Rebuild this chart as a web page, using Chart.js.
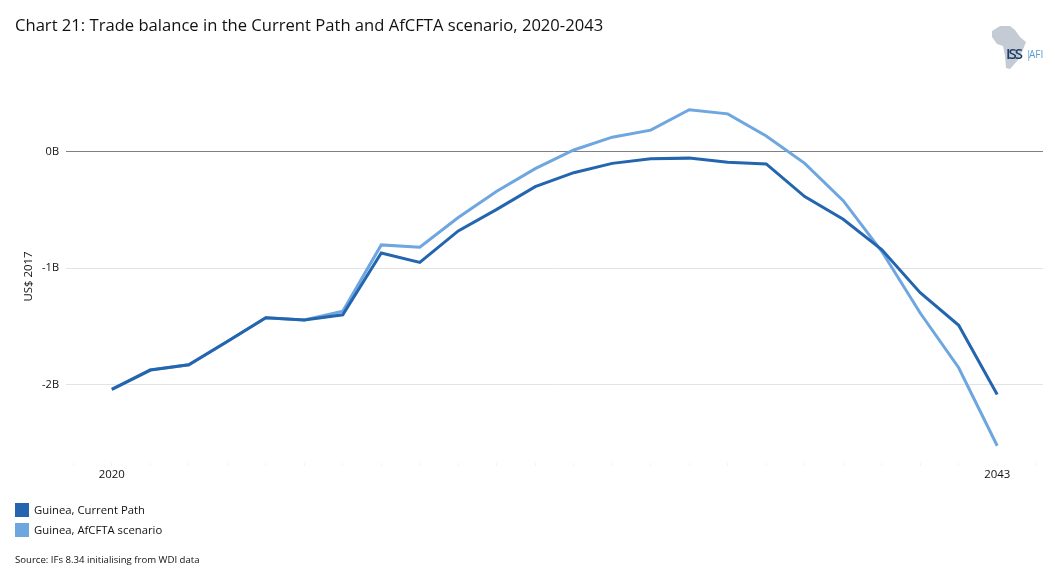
<!DOCTYPE html>
<html>
<head>
<meta charset="utf-8">
<title>Chart 21</title>
<script src="https://cdn.jsdelivr.net/npm/chart.js"></script>
<style>
  html, body { margin: 0; padding: 0; background: #fff; }
  body { width: 1055px; height: 584px; position: relative; overflow: hidden; font-family: "Open Sans", sans-serif; color: #111; }
  canvas { position: absolute; left: 0; top: 0; }
  .title { position: absolute; left: 15px; top: 13px; font-size: 16.6px; line-height: 24px; white-space: nowrap; }
  .legend-row { position: absolute; left: 15px; height: 14px; font-size: 11.3px; line-height: 14px; white-space: nowrap; }
  .legend-row i { display: inline-block; width: 14px; height: 14px; margin-right: 5px; vertical-align: top; }
  .source { position: absolute; left: 15px; top: 553px; font-size: 9.6px; line-height: 14px; white-space: nowrap; }
  .logo { position: absolute; left: 985px; top: 20px; }
</style>
</head>
<body>
<canvas id="chart" width="1055" height="584"></canvas>
<div class="title">Chart 21: Trade balance in the Current Path and AfCFTA scenario, 2020-2043</div>
<svg class="logo" width="65" height="55" viewBox="0 0 65 55">
  <polygon fill="#c4cbd5" points="15,6 25,6 30,10 35,17 41,22 37,32 33,40 25,49 21,48 20,36 18,26 12,24 7,17 7,11"/>
  <text x="21" y="39" font-family="Open Sans" font-weight="600" font-size="15" fill="#1d3f66" textLength="17">ISS</text>
  <text x="41" y="38" font-family="Open Sans" font-size="10" fill="#5b9bd0">|</text>
  <text x="44" y="38" font-family="Open Sans" font-size="10" fill="#5b9bd0">AFI</text>
</svg>
<div class="legend-row" id="leg0" style="top:503px"></div>
<div class="legend-row" id="leg1" style="top:523px"></div>
<div class="source">Source: IFs 8.34 initialising from WDI data</div>

<script>
  // Valores (miles de millones US$ 2017)
  const years = [2020,2021,2022,2023,2024,2025,2026,2027,2028,2029,2030,2031,2032,2033,2034,2035,2036,2037,2038,2039,2040,2041,2042,2043];
  const currentPath = [-2.04,-1.875,-1.83,-1.63,-1.425,-1.445,-1.40,-0.87,-0.95,-0.68,-0.495,-0.30,-0.18,-0.10,-0.06,-0.055,-0.09,-0.105,-0.385,-0.58,-0.84,-1.21,-1.49,-2.085];
  const afcfta = [-2.04,-1.875,-1.83,-1.63,-1.425,-1.445,-1.37,-0.80,-0.82,-0.565,-0.34,-0.145,0.015,0.125,0.185,0.36,0.325,0.135,-0.10,-0.42,-0.855,-1.385,-1.855,-2.525];
  const yTicks = [-2,-1,0];
  const xLabels = [2020,2043];
  const seriesNames = ['Guinea, Current Path','Guinea, AfCFTA scenario'];
  const seriesColors = ['#2365ae','#6ea6e0'];

  const FONT = 'Open Sans';

  // Leyenda en HTML, como cajas cuadradas
  seriesNames.forEach((name, i)=>{
    const row = document.getElementById('leg' + i);
    const box = document.createElement('i');
    box.style.background = seriesColors[i];
    row.appendChild(box);
    row.appendChild(document.createTextNode(name));
  });

  const toPoints = (vals)=>vals.map((v, i)=>({ x: years[i], y: v }));

  new Chart(document.getElementById('chart'), {
    type: 'line',
    data: {
      datasets: [
        { label: seriesNames[0], data: toPoints(currentPath), borderColor: seriesColors[0] },
        { label: seriesNames[1], data: toPoints(afcfta), borderColor: seriesColors[1] }
      ]
    },
    options: {
      responsive: false,
      animation: false,
      layout: { padding: { top: 90, right: 12, left: 0, bottom: 0 } },
      plugins: { legend: { display: false }, title: { display: false }, tooltip: { enabled: false } },
      elements: {
        line: { borderWidth: 3, tension: 0, borderCapStyle: 'butt', borderJoinStyle: 'miter' },
        point: { radius: 0 }
      },
      scales: {
        x: {
          type: 'linear',
          min: 2018.81,
          max: 2044.19,
          border: { display: false },
          grid: { drawOnChartArea: false, drawTicks: true, tickLength: 3, tickColor: '#f3f3f3' },
          ticks: {
            autoSkip: false,
            maxRotation: 0,
            padding: 2,
            color: '#111',
            font: { family: FONT, size: 11.4 },
            callback: (v)=>xLabels.includes(v) ? String(v) : ''
          },
          afterBuildTicks: (scale)=>{ scale.ticks = [2019, ...years, 2044].map(v=>({ value: v })); },
          afterFit: (scale)=>{ scale.height = 121; }
        },
        y: {
          min: -2.673,
          max: 0.53,
          border: { display: false },
          grid: {
            drawTicks: false,
            color: (ctx)=>ctx.tick && ctx.tick.value === 0 ? '#808080' : '#e3e3e3',
            lineWidth: 1
          },
          ticks: {
            padding: 7,
            color: '#111',
            font: { family: FONT, size: 11 },
            callback: (v)=>v + 'B'
          },
          title: {
            display: true,
            text: 'US$ 2017',
            color: '#111',
            font: { family: FONT, size: 11.4 },
            padding: { top: 22, bottom: 0 }
          },
          afterBuildTicks: (scale)=>{ scale.ticks = yTicks.map(v=>({ value: v })); },
          afterFit: (scale)=>{ scale.width = 66; }
        }
      }
    }
  });
</script>
</body>
</html>
